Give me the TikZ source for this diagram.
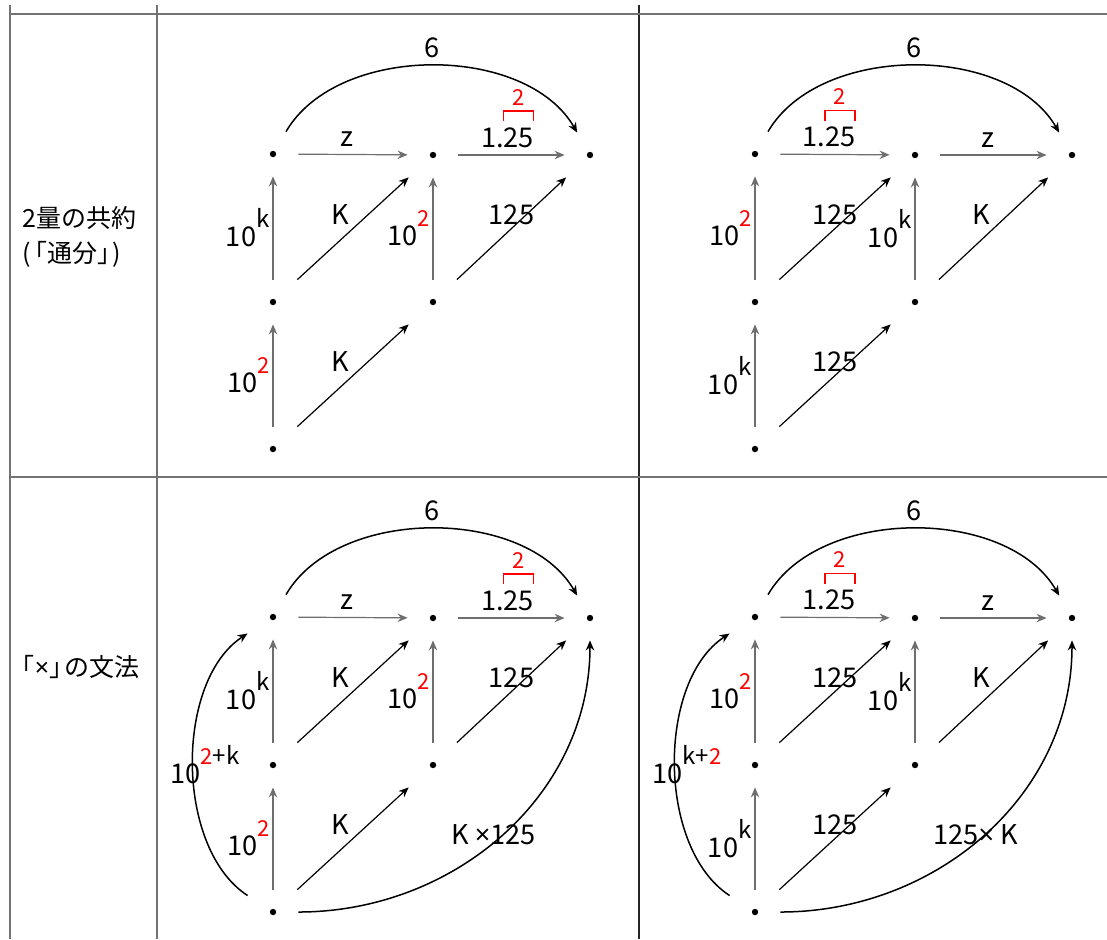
\documentclass[tikz,border=0pt]{standalone}
\usepackage{fontspec}
\setmainfont{Noto Sans CJK JP}
\newfontfamily\latin{Noto Sans}
\usetikzlibrary{arrows.meta}
\tikzset{
  dot/.style={rectangle, inner sep=0pt, minimum width=25pt, minimum height=22pt,
    path picture={\fill (path picture bounding box.center) circle (1.6pt);}},
  grayarrow/.style={-{Stealth[length=5pt,width=4.2pt]}, draw=black!57, line width=0.6pt},
  blk/.style={-{Stealth[length=5pt,width=4.2pt]}, draw=black, line width=0.6pt},
  arc/.style={blk, line width=0.75pt},
  rule/.style={draw=black!55, line width=0.6pt},
  lab/.style={font=\fontsize{13.6}{15}\selectfont, inner sep=1.5pt},
  head/.style={font=\fontsize{12.5}{17.5}\selectfont, align=left, inner sep=0pt},
  brk/.style={draw=red, line width=0.7pt}
}
\newcommand{\upk}[1]{\raisebox{0.7em}{\fontsize{12}{13}\selectfont #1}}
\newcommand{\upr}[1]{\raisebox{0.7em}{\fontsize{11}{12}\selectfont\color{red}#1}}

\begin{document}
\begin{tikzpicture}[x=0.5pt, y=-0.5pt]
  \useasboundingbox (0,0) rectangle (1107,939);
  % table
  \draw[rule] (10,5) -- (10,939);
  \draw[rule] (157,5) -- (157,939);
  \draw[rule, draw=black!85] (639,5) -- (639,939);
  \draw[rule] (10,14) -- (1107,14);
  \draw[rule] (10,477) -- (1107,477);
  \node[head, anchor=west] (r1) at (22,237) {2量の共約\\(\kern-.35em「通分」\kern-.4em)};
  \node[head, anchor=west] (r2) at (22,667) {\kern-.5em「{\latin ×}」\kern-.4em の文法};

  % left column: z then 1.25
  \foreach \p/\dy in {a/0, c/463} {
    \begin{scope}[shift={(0,\dy)}]
      \foreach \n/\x/\y in {s1/273/154, s2/433/155, s3/590/155, m1/273/302, m2/433/302, b1/273/449}
        \node[dot] (\p\n) at (\x,\y) {};
      \draw[grayarrow] (\p s1) -- node[lab, above=2pt, xshift=-3pt] {z} (\p s2);
      \draw[grayarrow] (\p s2) -- node[lab, above=2pt, xshift=-2pt] (\p t) {1.25} (\p s3);
      \draw[brk] ([shift={(-17pt,13pt)}]\p t.base east) -- ++(0pt,5pt) -- ++(15pt,0pt) -- ++(0pt,-5pt);
      \node[lab, anchor=base, font=\fontsize{11}{13}\selectfont, text=red] (\p e) at ([shift={(-9.5pt,21pt)}]\p t.base east) {2};
      \draw[grayarrow] (\p m1) -- node[lab, left] {10\upk{k}} (\p s1);
      \draw[grayarrow] (\p b1) -- node[lab, left] {10\upr{2}} (\p m1);
      \draw[grayarrow] (\p m2) -- node[lab, left] {10\upr{2}} (\p s2);
      \draw[blk] (\p m1) -- node[lab, above left] {K} (\p s2);
      \draw[blk] (\p b1) -- node[lab, above left] {K} (\p m2);
      \draw[blk] (\p m2) -- node[lab, above] {125} (\p s3);
      \draw[arc] (\p s1) to[bend left=60, looseness=0.9] node[lab, above=2pt] {6} (\p s3);
    \end{scope}
  }
  % right column: 1.25 then z
  \foreach \p/\dy in {b/0, d/463} {
    \begin{scope}[shift={(482,\dy)}]
      \foreach \n/\x/\y in {s1/273/154, s2/433/155, s3/590/155, m1/273/302, m2/433/302, b1/273/449}
        \node[dot] (\p\n) at (\x,\y) {};
      \draw[grayarrow] (\p s1) -- node[lab, above=2pt, xshift=-3pt] (\p t) {1.25} (\p s2);
      \draw[brk] ([shift={(-17pt,13pt)}]\p t.base east) -- ++(0pt,5pt) -- ++(15pt,0pt) -- ++(0pt,-5pt);
      \node[lab, anchor=base, font=\fontsize{11}{13}\selectfont, text=red] (\p e) at ([shift={(-9.5pt,21pt)}]\p t.base east) {2};
      \draw[grayarrow] (\p s2) -- node[lab, above=2pt, xshift=-3pt] {z} (\p s3);
      \draw[grayarrow] (\p m1) -- node[lab, left] {10\upr{2}} (\p s1);
      \draw[grayarrow] (\p b1) -- node[lab, left] {10\upk{k}} (\p m1);
      \draw[grayarrow] (\p m2) -- node[lab, left] {10\upk{k}} (\p s2);
      \draw[blk] (\p m1) -- node[lab, above] {125} (\p s2);
      \draw[blk] (\p b1) -- node[lab, above] {125} (\p m2);
      \draw[blk] (\p m2) -- node[lab, above left] {K} (\p s3);
      \draw[arc] (\p s1) to[bend left=60, looseness=0.9] node[lab, above=2pt] {6} (\p s3);
    \end{scope}
  }

  % composite arrows of the lower row
  \draw[arc] (cb1) to[bend left=57, looseness=0.85] node[lab, xshift=6pt] {10\upr{2}\upk{+k}} (cs1);
  \draw[arc] (cb1) to[out=0, in=-90] node[lab, xshift=-4.5pt] {K {\latin ×}125} (cs3);
  \draw[arc] (db1) to[bend left=57, looseness=0.85] node[lab, xshift=6pt] {10\upk{k+}\upr{2}} (ds1);
  \draw[arc] (db1) to[out=0, in=-90] node[lab, xshift=-4.5pt] {125{\latin ×} K} (ds3);
\end{tikzpicture}
\end{document}
